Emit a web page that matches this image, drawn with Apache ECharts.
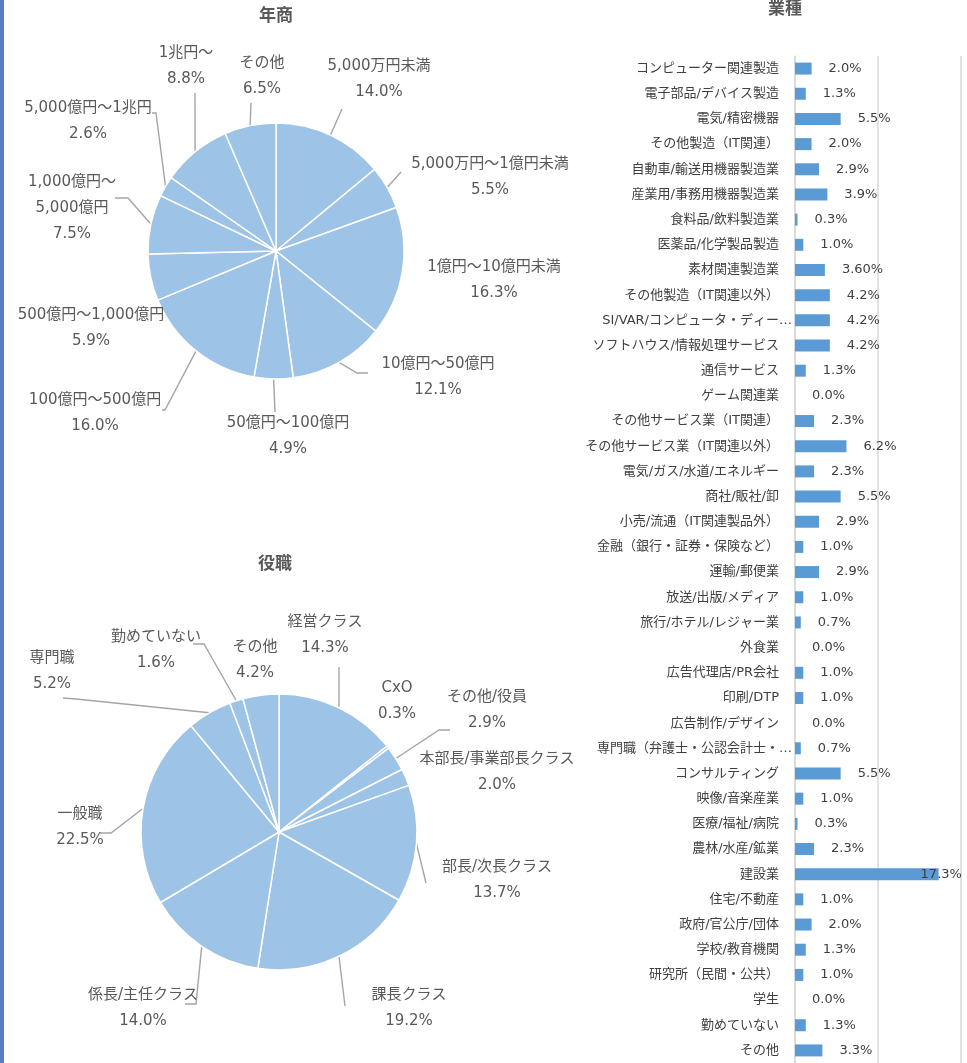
<!DOCTYPE html>
<html><head><meta charset="utf-8">
<script src="https://cdn.jsdelivr.net/npm/echarts@6/dist/echarts.min.js"></script>
<style>html,body{margin:0;padding:0;background:#fff}#c{width:967px;height:1063px}</style>
</head><body><div id="c"></div>
<script>
// ---- data ----
const revenueNames = ['5,000万円未満','5,000万円〜1億円未満','1億円〜10億円未満','10億円〜50億円','50億円〜100億円','100億円〜500億円','500億円〜1,000億円','1,000億円〜\n5,000億円','5,000億円〜1兆円','1兆円〜','その他'];
const revenueValues = [14.0, 5.5, 16.3, 12.1, 4.9, 16.0, 5.9, 7.5, 2.6, 8.8, 6.5];

const positionNames = ['経営クラス','CxO','その他/役員','本部長/事業部長クラス','部長/次長クラス','課長クラス','係長/主任クラス','一般職','専門職','勤めていない','その他'];
const positionValues = [14.3, 0.3, 2.9, 2.0, 13.7, 19.2, 14.0, 22.5, 5.2, 1.6, 4.2];

const industryNames = ['コンピューター関連製造','電子部品/デバイス製造','電気/精密機器','その他製造（IT関連）','自動車/輸送用機器製造業','産業用/事務用機器製造業','食料品/飲料製造業','医薬品/化学製品製造','素材関連製造業','その他製造（IT関連以外）','SI/VAR/コンピュータ・ディー…','ソフトハウス/情報処理サービス','通信サービス','ゲーム関連業','その他サービス業（IT関連）','その他サービス業（IT関連以外）','電気/ガス/水道/エネルギー','商社/販社/卸','小売/流通（IT関連製品外）','金融（銀行・証券・保険など）','運輸/郵便業','放送/出版/メディア','旅行/ホテル/レジャー業','外食業','広告代理店/PR会社','印刷/DTP','広告制作/デザイン','専門職（弁護士・公認会計士・…','コンサルティング','映像/音楽産業','医療/福祉/病院','農林/水産/鉱業','建設業','住宅/不動産','政府/官公庁/団体','学校/教育機関','研究所（民間・公共）','学生','勤めていない','その他'];
const industryValues = [2.0, 1.3, 5.5, 2.0, 2.9, 3.9, 0.3, 1.0, 3.6, 4.2, 4.2, 4.2, 1.3, 0.0, 2.3, 6.2, 2.3, 5.5, 2.9, 1.0, 2.9, 1.0, 0.7, 0.0, 1.0, 1.0, 0.0, 0.7, 5.5, 1.0, 0.3, 2.3, 17.3, 1.0, 2.0, 1.3, 1.0, 0.0, 1.3, 3.3];
const industryTwoDecimals = ['素材関連製造業'];

const titles = { revenue: '年商', position: '役職', industry: '業種' };

// ---- label layout (positions of pie labels and leader lines) ----
const revenueLabelAt = [[379,79],[490,177],[494,280],[438,377],[288,436],[95,413],[91,328],[72,208],[88,121],[186,66],[262,76]];
const revenueLeaders = [[[342,109]],[[401,172]],null,[[357,373],[368,373]],[[275,412]],[[165,410],[162,410]],null,[[128,198],[115,198]],[[156,113],[152,113]],[[195,93]],[[251,103]]];
const positionLabelAt = [[325,635],[397,701],[487,710],[497,772],[497,880],[409,1008],[143,1008],[80,827],[52,671],[156,650],[255,660]];
const positionLeaders = [[[339,667]],null,[[439,730],[450,730]],null,[[426,883]],[[345,1006]],[[196,1004],[185,1004]],[[111,833],[100,833]],[[76,699],[63,698]],[[204,644],[193,644]],null];

const FONT = '"DejaVu Sans", "Noto Sans CJK JP", sans-serif';
const PIE_FILL = '#9DC3E6';
const LINE_GRAY = '#A5A5A5';

function pieData(names, values, leaders) {
  return names.map((n, i) => ({
    name: n, value: values[i],
    labelLine: { show: !!leaders[i] }
  }));
}

function makeLayout(at, leaders, cx, cy, r, values) {
  const total = values.reduce((a, b) => a + b, 0);
  return function (params) {
    const i = params.dataIndex;
    const out = { x: at[i][0], y: at[i][1], align: 'center', verticalAlign: 'middle' };
    if (leaders[i]) {
      let start;
      if (params.labelLinePoints && params.labelLinePoints[0]) {
        start = params.labelLinePoints[0];
      } else {
        let cum = 0;
        for (let k = 0; k < i; k++) cum += values[k];
        const a = (cum + values[i] / 2) / total * Math.PI * 2;
        start = [cx + r * Math.sin(a), cy - r * Math.cos(a)];
      }
      const pts = [start].concat(leaders[i]);
      while (pts.length < 3) pts.push(pts[pts.length - 1]);
      out.labelLinePoints = pts;
    }
    return out;
  };
}

function pieSeries(names, values, at, leaders, cx, cy, r) {
  return {
    type: 'pie',
    center: [cx, cy],
    radius: r,
    startAngle: 90,
    clockwise: true,
    avoidLabelOverlap: false,
    animation: false,
    data: pieData(names, values, leaders),
    itemStyle: { color: PIE_FILL, borderColor: '#ffffff', borderWidth: 1.5 },
    label: {
      show: true, position: 'outside',
      formatter: p => p.name + '\n' + p.value.toFixed(1) + '%',
      fontFamily: FONT, fontSize: 15, lineHeight: 26, color: '#595959'
    },
    labelLine: { show: true, length: 10, length2: 10, lineStyle: { color: LINE_GRAY, width: 1.4 } },
    labelLayout: makeLayout(at, leaders, cx, cy, r, values),
    emphasis: { disabled: true }
  };
}

const chart = echarts.init(document.getElementById('c'), null, { renderer: 'canvas' });

const barData = industryValues.map((v, i) => {
  const item = { value: v };
  if (v === Math.max(...industryValues)) item.label = { offset: [-35, 0] };
  return item;
});

const categoryData = industryNames.map(n => n.endsWith('…')
  ? { value: n, textStyle: { padding: [0, -13, 0, 0] } }
  : n);

chart.setOption({
  backgroundColor: '#ffffff',
  animation: false,
  graphic: [
    { type: 'rect', left: 0, top: 0, shape: { width: 4, height: 1063 }, style: { fill: '#5B7CC4' }, silent: true },
    { type: 'text', x: 276, y: 17, style: { text: titles.revenue, textAlign: 'center', textVerticalAlign: 'middle', font: 'bold 17px ' + FONT, fill: '#595959' } },
    { type: 'text', x: 275, y: 565, style: { text: titles.position, textAlign: 'center', textVerticalAlign: 'middle', font: 'bold 17px ' + FONT, fill: '#595959' } },
    { type: 'text', x: 785, y: 10, style: { text: titles.industry, textAlign: 'center', textVerticalAlign: 'middle', font: 'bold 17px ' + FONT, fill: '#595959' } }
  ],
  grid: { left: 795, top: 56, width: 166, height: 1011, containLabel: false },
  xAxis: {
    type: 'value', min: 0, max: 20, interval: 10,
    axisLabel: { show: false }, axisLine: { show: false }, axisTick: { show: false },
    splitLine: { show: true, lineStyle: { color: '#D9D9D9', width: 1.5 } }
  },
  yAxis: {
    type: 'category', data: categoryData, inverse: true,
    axisLine: { show: true, lineStyle: { color: '#D9D9D9', width: 1.5 } },
    axisTick: { show: false },
    axisLabel: { interval: 0, margin: 16, fontSize: 13, color: '#404040', fontFamily: FONT }
  },
  series: [
    {
      type: 'bar', data: barData, barWidth: 12,
      itemStyle: { color: '#5B9BD5' },
      label: {
        show: true, position: 'right', distance: 17,
        fontSize: 13, color: '#404040', fontFamily: FONT,
        formatter: p => p.value.toFixed(industryTwoDecimals.includes(p.name) ? 2 : 1) + '%'
      },
      emphasis: { disabled: true }
    },
    pieSeries(revenueNames, revenueValues, revenueLabelAt, revenueLeaders, 276, 251, 128),
    pieSeries(positionNames, positionValues, positionLabelAt, positionLeaders, 279, 832, 138)
  ]
});
</script>
</body></html>
